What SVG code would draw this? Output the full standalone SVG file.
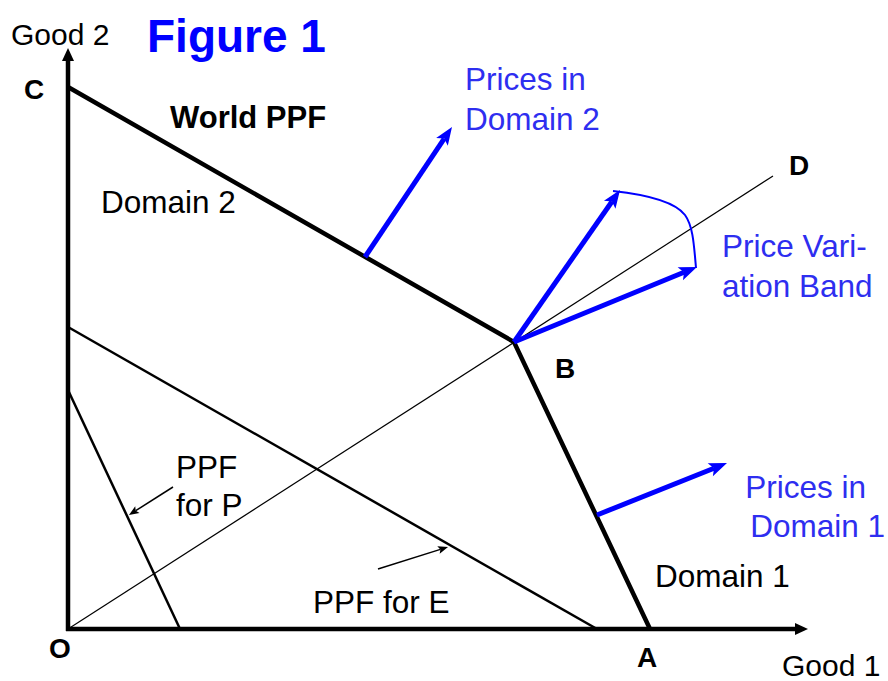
<svg xmlns="http://www.w3.org/2000/svg" width="888" height="681" viewBox="0 0 888 681">
<style>
text{font-family:"Liberation Sans",Arial,sans-serif;}
.lbl{font-size:31.5px;fill:#000;}
.pt{font-size:28px;font-weight:bold;fill:#000;}
.blue{font-size:31.5px;fill:#2e2ef0;}
.thick{stroke:#000;stroke-width:4.5;fill:none;}
.mid{stroke:#000;stroke-width:2.5;fill:none;}
.thin{stroke:#000;stroke-width:1.2;fill:none;}
.barrow{stroke:#0000ff;stroke-width:5;fill:none;marker-end:url(#bh);}
.karrow{stroke:#000;stroke-width:1.5;fill:none;marker-end:url(#kh);}
</style>
<defs>
<marker id="bh" markerUnits="userSpaceOnUse" markerWidth="20" markerHeight="16" refX="4" refY="7" orient="auto" overflow="visible">
<path d="M0,0 L18,7 L0,14 L4,7 Z" fill="#0000ff"/>
</marker>
<marker id="kh" markerUnits="userSpaceOnUse" markerWidth="12" markerHeight="10" refX="2" refY="4" orient="auto" overflow="visible">
<path d="M0,0 L10,4 L0,8 L2,4 Z" fill="#000"/>
</marker>
<marker id="ah" markerUnits="userSpaceOnUse" markerWidth="16" markerHeight="12" refX="2" refY="6" orient="auto" overflow="visible">
<path d="M0,0 L13,6 L0,12 Z" fill="#000"/>
</marker>
</defs>
<rect width="888" height="681" fill="#fff"/>
<g id="connectors">
<line x1="68" y1="631" x2="68" y2="59" stroke="#000" stroke-width="4.5" marker-end="url(#ah)"/>
<line x1="66" y1="629" x2="797" y2="629" stroke="#000" stroke-width="4.5" marker-end="url(#ah)"/>
<line class="thin" x1="68" y1="629" x2="773" y2="176"/>
<line class="mid" x1="68" y1="327" x2="597" y2="629"/>
<line class="mid" x1="68" y1="390" x2="180" y2="629"/>
<polyline class="thick" points="68,87 514,342 650,629"/>
<line class="barrow" x1="365" y1="257" x2="444.2" y2="138.6"/>
<line class="barrow" x1="514" y1="342" x2="612" y2="201.5"/>
<line class="barrow" x1="514" y1="342" x2="684" y2="272.3"/>
<line class="barrow" x1="597" y1="515" x2="714" y2="468.2"/>
<path d="M613,191 C650,195 675,202 685,215 C693,226 694,245 696,268" stroke="#0000ff" stroke-width="2" fill="none"/>
<line class="karrow" x1="173" y1="487" x2="135.7" y2="510.7"/>
<line class="karrow" x1="378" y1="569" x2="440.4" y2="549.4"/>
</g>
<g id="title"><text x="147" y="52" font-size="46" font-weight="bold" fill="#0000ff">Figure 1</text></g>
<g id="axis-labels">
<text x="11" y="45" font-size="30">Good 2</text>
<text x="782" y="676" font-size="30">Good 1</text>
</g>
<g id="points">
<text class="pt" x="24" y="99">C</text>
<text class="pt" x="789" y="175">D</text>
<text class="pt" x="555" y="378">B</text>
<text class="pt" x="49" y="658">O</text>
<text class="pt" x="637" y="667">A</text>
</g>
<g id="world-ppf"><text x="170" y="128" font-size="31" font-weight="bold">World PPF</text></g>
<g id="domain2"><text class="lbl" x="101" y="213">Domain 2</text></g>
<g id="domain1"><text class="lbl" x="655" y="587">Domain 1</text></g>
<g id="prices-d2"><text class="blue" x="465" y="90">Prices in</text><text class="blue" x="465" y="130">Domain 2</text></g>
<g id="band"><text class="blue" x="722" y="257">Price Vari-</text><text class="blue" x="722" y="297">ation Band</text></g>
<g id="prices-d1"><text class="blue" x="866" y="498" text-anchor="end">Prices in</text><text class="blue" x="885" y="537" text-anchor="end">Domain 1</text></g>
<g id="ppf-p"><text class="lbl" x="176" y="478">PPF</text><text class="lbl" x="176" y="516">for P</text></g>
<g id="ppf-e"><text class="lbl" x="313" y="613">PPF for E</text></g>
</svg>
